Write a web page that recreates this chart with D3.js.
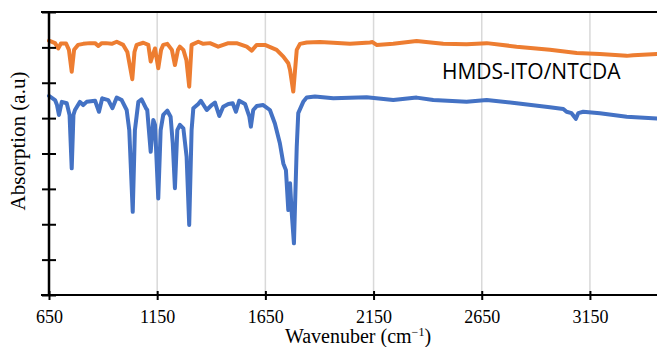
<!DOCTYPE html>
<html lang="en">
  <head>
    <meta charset="utf-8" />
    <title>FTIR spectra</title>
    <style>
      body { margin: 0; background: #fff; }
      #vis text { font-family: "Liberation Serif", serif; fill: #000; }
      #vis text.lbl { font-family: "Open Sans", "Liberation Sans", sans-serif; }
    </style>
  </head>
  <body>
    <div id="vis"></div>
    <script src="https://d3js.org/d3.v7.min.js"></script>
    <script>
      // wavenumber (cm-1) and absorption (a.u.)
      const orangeWave = [650, 678, 693, 705, 729, 742, 755, 766, 784, 808, 839, 863, 878, 894, 913, 940, 963, 993, 1012, 1035, 1045, 1055, 1086, 1109, 1120, 1132, 1140, 1155, 1168, 1178, 1197, 1218, 1232, 1246, 1255, 1271, 1285, 1298, 1309, 1340, 1363, 1394, 1432, 1479, 1517, 1564, 1587, 1610, 1648, 1702, 1733, 1756, 1764, 1779, 1795, 1810, 1841, 1902, 1964, 2041, 2133, 2145, 2164, 2241, 2349, 2426, 2472, 2580, 2673, 2811, 2965, 3089, 3196, 3320, 3350, 3460];
      const orangeAbs = [7.19, 7.12, 6.97, 7.11, 7.11, 6.93, 6.31, 6.93, 7.07, 7.10, 7.12, 7.12, 7.04, 7.12, 7.12, 7.10, 7.16, 7.07, 6.87, 6.10, 6.87, 7.07, 7.13, 7.07, 6.60, 6.83, 6.97, 6.41, 6.93, 7.07, 7.10, 6.93, 6.50, 6.93, 7.02, 6.93, 6.64, 5.89, 7.07, 7.16, 7.10, 7.12, 7.02, 7.12, 7.12, 7.02, 6.91, 7.07, 7.07, 6.93, 6.74, 6.55, 6.36, 5.75, 6.93, 7.10, 7.14, 7.15, 7.13, 7.10, 7.14, 7.15, 7.07, 7.10, 7.18, 7.13, 7.10, 7.09, 7.12, 7.02, 6.93, 6.84, 6.81, 6.76, 6.78, 6.81];

      const blueWave = [650, 678, 687, 696, 709, 732, 745, 755, 763, 770, 793, 808, 824, 863, 881, 896, 924, 943, 963, 986, 1009, 1021, 1037, 1047, 1063, 1078, 1098, 1104, 1120, 1132, 1140, 1155, 1166, 1178, 1197, 1212, 1222, 1232, 1243, 1255, 1271, 1286, 1298, 1309, 1317, 1340, 1352, 1379, 1402, 1417, 1437, 1455, 1479, 1499, 1514, 1529, 1556, 1576, 1583, 1594, 1610, 1640, 1671, 1694, 1717, 1733, 1745, 1756, 1764, 1772, 1782, 1795, 1802, 1825, 1841, 1879, 1964, 2118, 2241, 2349, 2426, 2580, 2673, 2811, 2965, 3027, 3042, 3065, 3085, 3096, 3119, 3196, 3320, 3460];
      const blueAbs = [5.63, 5.51, 5.37, 5.09, 5.46, 5.42, 5.09, 3.58, 5.09, 5.23, 5.46, 5.37, 5.46, 5.49, 5.18, 5.56, 5.51, 5.28, 5.58, 5.51, 5.23, 4.66, 2.35, 4.66, 5.46, 5.53, 5.28, 5.23, 4.05, 4.95, 4.81, 2.73, 4.66, 5.09, 5.21, 5.04, 4.29, 3.02, 4.66, 4.81, 4.71, 3.91, 1.98, 4.66, 5.28, 5.40, 5.49, 5.23, 5.37, 5.44, 5.06, 5.32, 5.40, 5.42, 5.18, 5.49, 5.40, 5.04, 4.76, 5.23, 5.34, 5.37, 5.23, 4.85, 4.29, 3.72, 3.53, 2.40, 3.16, 2.31, 1.46, 4.19, 5.14, 5.46, 5.58, 5.61, 5.56, 5.59, 5.51, 5.58, 5.51, 5.46, 5.51, 5.42, 5.31, 5.26, 5.18, 5.14, 4.98, 5.14, 5.18, 5.14, 5.04, 4.99];

      const xTicks = [650, 1150, 1650, 2150, 2650, 3150];
      const gridTicks = [1150, 1650, 2150, 2650, 3150];
      const yTicks = [0, 1, 2, 3, 4, 5, 6, 7, 8];
      const seriesLabel = "HMDS-ITO/NTCDA";

      const W = 657, H = 347;
      const mLeft = 49, mRight = 657, mTop = 12, mBottom = 295;
      const serif = "'Liberation Serif', serif";

      const x = d3.scaleLinear().domain([650, 3460]).range([mLeft, mRight]);
      const y = d3.scaleLinear().domain([0, 8]).range([mBottom, mTop]);

      const svg = d3.select("#vis").append("svg").attr("width", W).attr("height", H);

      // grid
      svg.append("g").selectAll("line").data(gridTicks).enter().append("line")
        .attr("x1", d => x(d)).attr("x2", d => x(d))
        .attr("y1", mTop).attr("y2", mBottom)
        .attr("stroke", "#d9d9d9").attr("stroke-width", 1.5);

      const line = d3.line().x(d => x(d[0])).y(d => y(d[1]));
      const orange = orangeWave.map((w, i) => [w, orangeAbs[i]]);
      const blue = blueWave.map((w, i) => [w, blueAbs[i]]);

      svg.append("path").datum(orange).attr("d", line)
        .attr("fill", "none").attr("stroke", "#ed7d31").attr("stroke-width", 4)
        .attr("stroke-linejoin", "round").attr("stroke-linecap", "round");
      svg.append("path").datum(blue).attr("d", line)
        .attr("fill", "none").attr("stroke", "#4472c4").attr("stroke-width", 4)
        .attr("stroke-linejoin", "round").attr("stroke-linecap", "round");

      // top border
      svg.append("line").attr("x1", 41).attr("x2", W).attr("y1", y(8)).attr("y2", y(8))
        .attr("stroke", "#000").attr("stroke-width", 2);

      // y axis
      const yAxis = svg.append("g").attr("transform", `translate(${mLeft},0)`)
        .call(d3.axisLeft(y).tickValues(yTicks).tickSize(7).tickFormat(""));
      yAxis.select(".domain").remove();
      yAxis.append("line").attr("x1", 0).attr("x2", 0).attr("y1", mTop).attr("y2", mBottom)
        .attr("stroke", "#000").attr("stroke-width", 2.5);
      yAxis.selectAll(".tick line").attr("x1", 7).attr("stroke-width", 2);

      // x axis
      const xAxis = svg.append("g").attr("transform", `translate(0,${mBottom})`)
        .call(d3.axisBottom(x).tickValues(xTicks).tickFormat(d3.format("d"))
          .tickSize(5).tickPadding(10));
      xAxis.attr("font-family", serif).attr("font-size", 18);
      xAxis.select(".domain").remove();
      xAxis.append("line").attr("x1", 41).attr("x2", W).attr("y1", 0).attr("y2", 0)
        .attr("stroke", "#000").attr("stroke-width", 2);
      xAxis.selectAll(".tick line").attr("y1", -4).attr("stroke-width", 2);
      xAxis.selectAll(".tick text").style("font-family", serif).attr("font-size", 18);

      // labels
      const xl = svg.append("text").attr("x", 358).attr("y", 343)
        .attr("text-anchor", "middle").attr("font-size", 20).style("font-family", serif);
      xl.append("tspan").text("Wavenuber (cm");
      xl.append("tspan").text("\u22121").attr("font-size", 12).attr("dy", -7);
      xl.append("tspan").text(")").attr("dy", 7);

      svg.append("text").attr("transform", "translate(25,141) rotate(-90)")
        .attr("text-anchor", "middle").attr("font-size", 21).style("font-family", serif)
        .text("Absorption (a.u)");

      svg.append("text").attr("class", "lbl").attr("x", 442).attr("y", 79)
        .attr("font-size", 21).text(seriesLabel);
    </script>
  </body>
</html>
